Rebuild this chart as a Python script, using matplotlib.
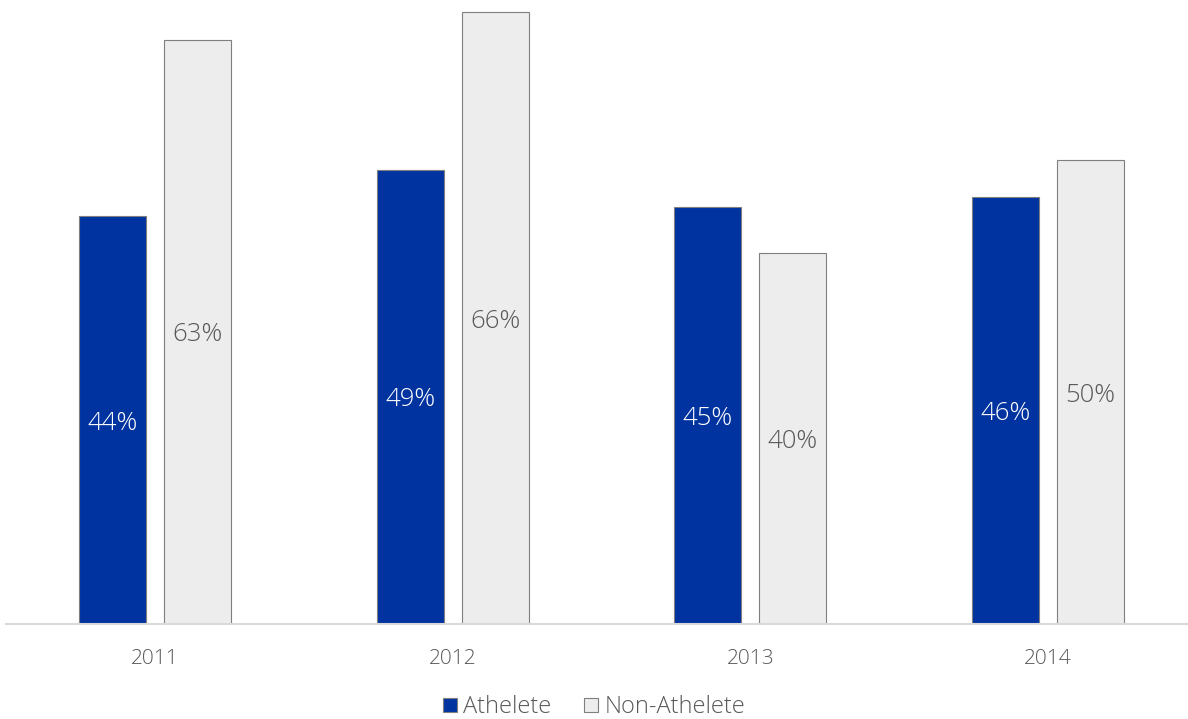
import matplotlib
matplotlib.use("Agg")
import matplotlib.pyplot as plt
import numpy as np

years = ["2011", "2012", "2013", "2014"]
athlete = [44, 49, 45, 46]
non_athlete = [63, 66, 40, 50]

BLUE = "#0033A0"
GREY = "#EDEDED"
EDGE = "#7F7F7F"
TEXT = "#595959"

plt.rcParams['font.family'] = ['Open Sans', 'DejaVu Sans']

fig = plt.figure(figsize=(11.88, 7.19), dpi=100)
ax = fig.add_axes([6/1188, 95/719, 1182/1188, 624/719])

x = np.arange(len(years))
w = 0.225
off = 0.143
b1 = ax.bar(x - off, athlete, w, color=BLUE, edgecolor=EDGE, linewidth=0.8, label="Athelete")
b2 = ax.bar(x + off, non_athlete, w, color=GREY, edgecolor=EDGE, linewidth=0.8, label="Non-Athelete")

for rect, v in zip(b1, athlete):
    ax.text(rect.get_x() + rect.get_width()/2, v/2, f"{v}%", ha="center", va="center_baseline",
            color="white", fontsize=18.5, fontweight="light")
for rect, v in zip(b2, non_athlete):
    ax.text(rect.get_x() + rect.get_width()/2, v/2, f"{v}%", ha="center", va="center_baseline",
            color=TEXT, fontsize=18.5, fontweight="light")

ax.set_xlim(-0.5, 3.47)
ax.set_ylim(0, 67.3)
ax.set_xticks(x)
ax.set_xticklabels(years, fontsize=15, color=TEXT, fontweight="light")
ax.tick_params(axis="x", length=0, pad=18)
ax.set_yticks([])
for s in ["top", "right", "left"]:
    ax.spines[s].set_visible(False)
ax.spines["bottom"].set_color("#D9D9D9")
ax.spines["bottom"].set_linewidth(1.5)

leg = fig.legend(loc="lower center", bbox_to_anchor=(0.5, -0.03), ncol=2, frameon=False,
                 fontsize=17, handlelength=0.6, handleheight=0.6, handletextpad=0.25,
                 columnspacing=1.4)
for t in leg.get_texts():
    t.set_color(TEXT)
    t.set_fontweight("light")

fig.savefig("out.png", dpi=100)
